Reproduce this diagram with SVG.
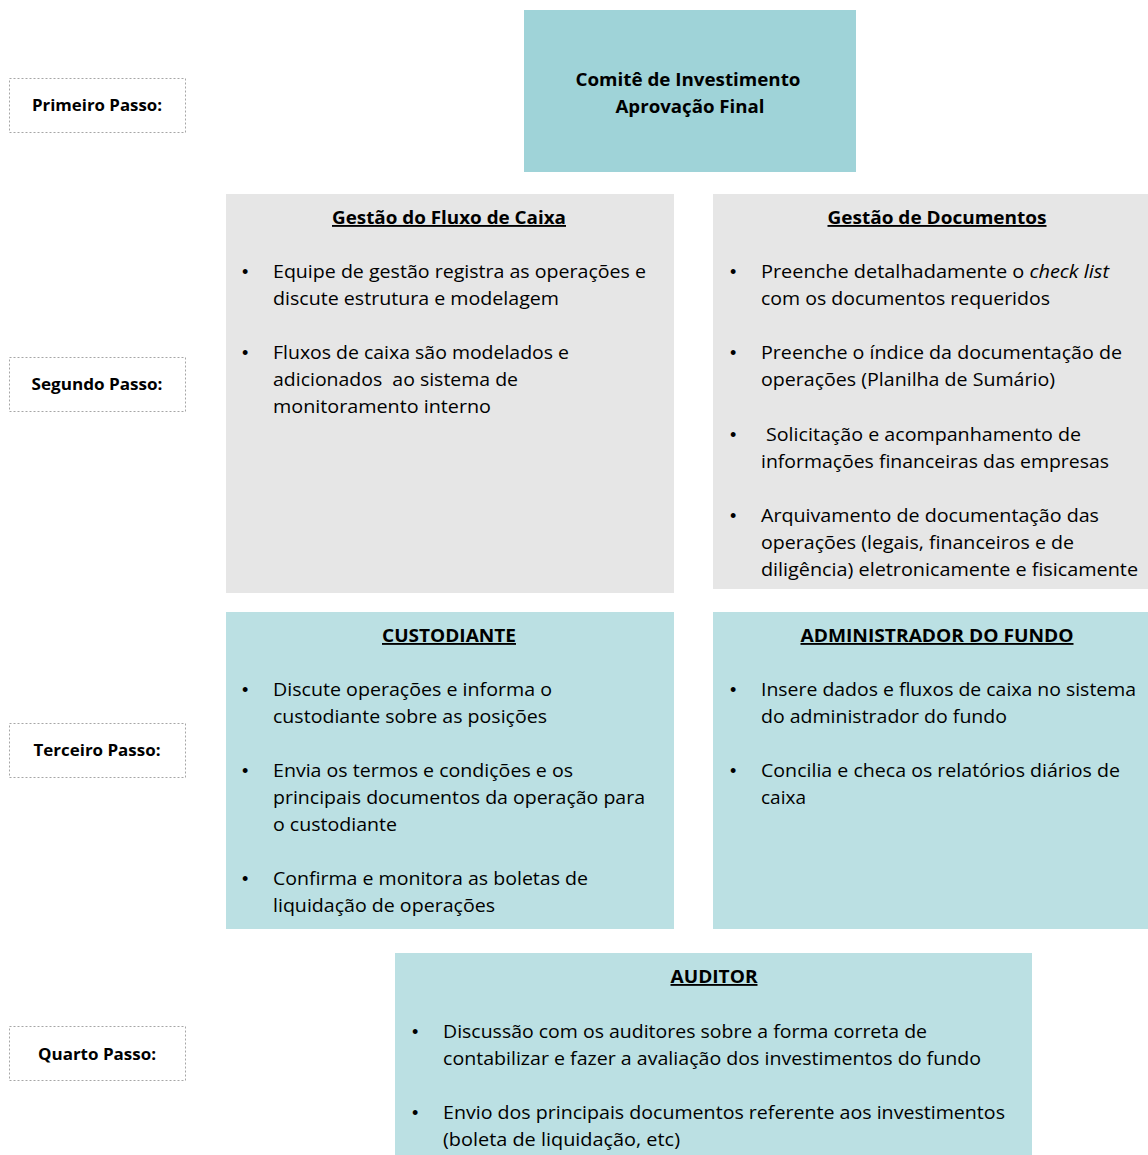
<svg xmlns="http://www.w3.org/2000/svg" width="1148" height="1155" viewBox="0 0 1148 1155">
<style>
.step{fill:#fff;stroke:#a6a6a6;stroke-width:1;stroke-dasharray:2 2}
.stept{font-family:"Open Sans","Liberation Sans",sans-serif;font-weight:bold;font-size:16.5px;fill:#000;text-anchor:middle}
.top{fill:#9fd3d8}
.gray{fill:#e6e6e6}
.teal{fill:#bbe0e3}
.title{font-family:"Open Sans","Liberation Sans",sans-serif;font-weight:bold;font-size:18.5px;fill:#000;text-anchor:middle;text-decoration:underline}
.toptxt{font-family:"Open Sans","Liberation Sans",sans-serif;font-weight:bold;font-size:18.5px;fill:#000;text-anchor:middle}
.body{font-family:"Open Sans","Liberation Sans",sans-serif;font-size:18.5px;fill:#000}
.bul{font-family:"Liberation Sans",sans-serif;font-size:18px;fill:#000}
</style>
<g id="step1"><rect class="step" x="9.5" y="78.5" width="176" height="54"/><text class="stept" x="97" y="111" textLength="130" lengthAdjust="spacingAndGlyphs">Primeiro Passo:</text></g>
<g id="step2"><rect class="step" x="9.5" y="357.5" width="176" height="54"/><text class="stept" x="97" y="390" textLength="131" lengthAdjust="spacingAndGlyphs">Segundo Passo:</text></g>
<g id="step3"><rect class="step" x="9.5" y="723.5" width="176" height="54"/><text class="stept" x="97" y="756" textLength="127" lengthAdjust="spacingAndGlyphs">Terceiro Passo:</text></g>
<g id="step4"><rect class="step" x="9.5" y="1026.5" width="176" height="54"/><text class="stept" x="97" y="1060" textLength="118" lengthAdjust="spacingAndGlyphs">Quarto Passo:</text></g>

<g id="comite"><rect class="top" x="524" y="10" width="332" height="162"/>
<text class="toptxt" x="688" y="86" textLength="225" lengthAdjust="spacingAndGlyphs">Comitê de Investimento</text>
<text class="toptxt" x="690" y="113" textLength="149" lengthAdjust="spacingAndGlyphs">Aprovação Final</text></g>

<g id="fluxo"><rect class="gray" x="226" y="194" width="448" height="399"/>
<text class="title" x="449" y="224" textLength="234" lengthAdjust="spacingAndGlyphs">Gestão do Fluxo de Caixa</text>
<text class="bul" x="242" y="278">•</text>
<text class="body" x="273" y="278" textLength="373" lengthAdjust="spacingAndGlyphs">Equipe de gestão registra as operações e</text>
<text class="body" x="273" y="305" textLength="286" lengthAdjust="spacingAndGlyphs">discute estrutura e modelagem</text>
<text class="bul" x="242" y="359">•</text>
<text class="body" x="273" y="359" textLength="296" lengthAdjust="spacingAndGlyphs">Fluxos de caixa são modelados e</text>
<text class="body" x="273" y="386" textLength="245" lengthAdjust="spacingAndGlyphs" xml:space="preserve">adicionados  ao sistema de</text>
<text class="body" x="273" y="413" textLength="218" lengthAdjust="spacingAndGlyphs">monitoramento interno</text></g>

<g id="documentos"><rect class="gray" x="713" y="194" width="435" height="395"/>
<text class="title" x="937" y="224" textLength="219" lengthAdjust="spacingAndGlyphs">Gestão de Documentos</text>
<text class="bul" x="730" y="278">•</text>
<text class="body" x="761" y="278" textLength="348" lengthAdjust="spacingAndGlyphs">Preenche detalhadamente o <tspan font-style="italic">check list</tspan></text>
<text class="body" x="761" y="305" textLength="289" lengthAdjust="spacingAndGlyphs">com os documentos requeridos</text>
<text class="bul" x="730" y="359">•</text>
<text class="body" x="761" y="359" textLength="361" lengthAdjust="spacingAndGlyphs">Preenche o índice da documentação de</text>
<text class="body" x="761" y="386" textLength="294" lengthAdjust="spacingAndGlyphs">operações (Planilha de Sumário)</text>
<text class="bul" x="730" y="441">•</text>
<text class="body" x="766" y="441" textLength="315" lengthAdjust="spacingAndGlyphs">Solicitação e acompanhamento de</text>
<text class="body" x="761" y="468" textLength="348" lengthAdjust="spacingAndGlyphs">informações financeiras das empresas</text>
<text class="bul" x="730" y="522">•</text>
<text class="body" x="761" y="522" textLength="338" lengthAdjust="spacingAndGlyphs">Arquivamento de documentação das</text>
<text class="body" x="761" y="549" textLength="313" lengthAdjust="spacingAndGlyphs">operações (legais, financeiros e de</text>
<text class="body" x="761" y="576" textLength="377" lengthAdjust="spacingAndGlyphs">diligência) eletronicamente e fisicamente</text></g>

<g id="custodiante"><rect class="teal" x="226" y="612" width="448" height="317"/>
<text class="title" x="449" y="642" textLength="134" lengthAdjust="spacingAndGlyphs">CUSTODIANTE</text>
<text class="bul" x="242" y="696">•</text>
<text class="body" x="273" y="696" textLength="279" lengthAdjust="spacingAndGlyphs">Discute operações e informa o</text>
<text class="body" x="273" y="723" textLength="274" lengthAdjust="spacingAndGlyphs">custodiante sobre as posições</text>
<text class="bul" x="242" y="777">•</text>
<text class="body" x="273" y="777" textLength="300" lengthAdjust="spacingAndGlyphs">Envia os termos e condições e os</text>
<text class="body" x="273" y="804" textLength="372" lengthAdjust="spacingAndGlyphs">principais documentos da operação para</text>
<text class="body" x="273" y="831" textLength="124" lengthAdjust="spacingAndGlyphs">o custodiante</text>
<text class="bul" x="242" y="885">•</text>
<text class="body" x="273" y="885" textLength="315" lengthAdjust="spacingAndGlyphs">Confirma e monitora as boletas de</text>
<text class="body" x="273" y="912" textLength="222" lengthAdjust="spacingAndGlyphs">liquidação de operações</text></g>

<g id="administrador"><rect class="teal" x="713" y="612" width="435" height="317"/>
<text class="title" x="937" y="642" textLength="273" lengthAdjust="spacingAndGlyphs">ADMINISTRADOR DO FUNDO</text>
<text class="bul" x="730" y="696">•</text>
<text class="body" x="761" y="696" textLength="375" lengthAdjust="spacingAndGlyphs">Insere dados e fluxos de caixa no sistema</text>
<text class="body" x="761" y="723" textLength="246" lengthAdjust="spacingAndGlyphs">do administrador do fundo</text>
<text class="bul" x="730" y="777">•</text>
<text class="body" x="761" y="777" textLength="359" lengthAdjust="spacingAndGlyphs">Concilia e checa os relatórios diários de</text>
<text class="body" x="761" y="804" textLength="45" lengthAdjust="spacingAndGlyphs">caixa</text></g>

<g id="auditor"><rect class="teal" x="395" y="953" width="637" height="202"/>
<text class="title" x="714" y="983" textLength="87" lengthAdjust="spacingAndGlyphs">AUDITOR</text>
<text class="bul" x="412" y="1038">•</text>
<text class="body" x="443" y="1038" textLength="484" lengthAdjust="spacingAndGlyphs">Discussão com os auditores sobre a forma correta de</text>
<text class="body" x="443" y="1065" textLength="538" lengthAdjust="spacingAndGlyphs">contabilizar e fazer a avaliação dos investimentos do fundo</text>
<text class="bul" x="412" y="1119">•</text>
<text class="body" x="443" y="1119" textLength="562" lengthAdjust="spacingAndGlyphs">Envio dos principais documentos referente aos investimentos</text>
<text class="body" x="443" y="1146" textLength="237" lengthAdjust="spacingAndGlyphs">(boleta de liquidação, etc)</text></g>
</svg>
